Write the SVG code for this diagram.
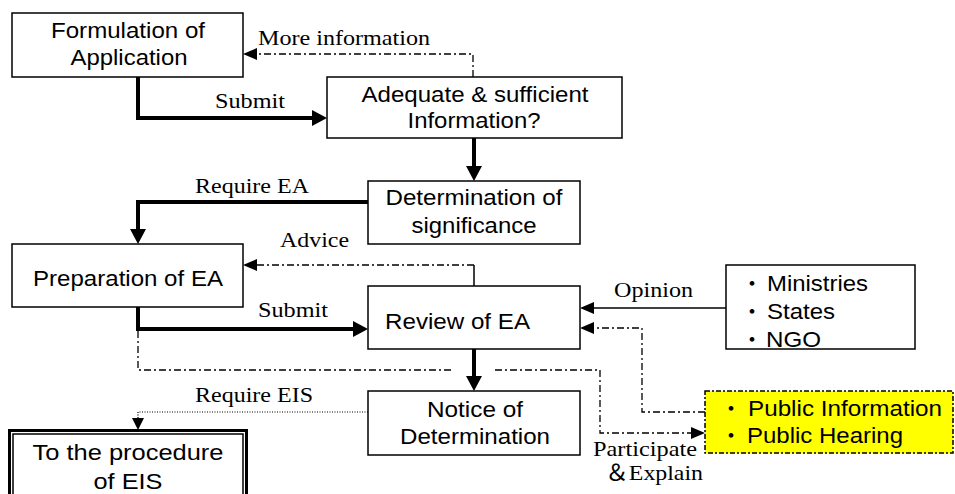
<svg xmlns="http://www.w3.org/2000/svg" width="955" height="494" viewBox="0 0 955 494">
<style>
.box{fill:#fff;stroke:#000;stroke-width:1.5}
.bt{font-family:"Liberation Sans",Arial,"Noto Sans CJK JP",sans-serif;font-size:22px;fill:#000}
.lb{font-family:"Liberation Serif","Times New Roman","Noto Sans CJK JP",serif;font-size:22px;fill:#000}
.thick{fill:none;stroke:#000;stroke-width:4;stroke-linejoin:miter}
.thin{fill:none;stroke:#000;stroke-width:1.5}
.dd{fill:none;stroke:#000;stroke-width:1.3;stroke-dasharray:7 3 2 3}
.dot{fill:none;stroke:#000;stroke-width:1.2;stroke-dasharray:1 1.5}
.mid{text-anchor:middle}
</style>
<defs>
<marker id="ah-thick" markerUnits="userSpaceOnUse" markerWidth="16" markerHeight="16" viewBox="0 0 16 16" refX="8" refY="8" orient="auto"><path d="M0,0 L15,8 L0,16 z" fill="#000"/></marker>
<marker id="ah-thin" markerUnits="userSpaceOnUse" markerWidth="14" markerHeight="12" viewBox="0 0 14 12" refX="12" refY="6" orient="auto"><path d="M0,0 L14,6 L0,12 z" fill="#000"/></marker>
<marker id="ah-small" markerUnits="userSpaceOnUse" markerWidth="12" markerHeight="12" viewBox="0 0 12 12" refX="10" refY="6" orient="auto"><path d="M0,0 L12,6 L0,12 z" fill="#000"/></marker>
</defs>

<g id="connectors">
<path class="thick" d="M138,77 V118 H320" marker-end="url(#ah-thick)"/>
<path class="thick" d="M474,138 V174" marker-end="url(#ah-thick)"/>
<path class="thick" d="M368,202 H138 V237" marker-end="url(#ah-thick)"/>
<path class="thick" d="M138,307 V329 H361" marker-end="url(#ah-thick)"/>
<path class="thick" d="M474,349 V384" marker-end="url(#ah-thick)"/>
<path class="thin" d="M726,308 H582" marker-end="url(#ah-thin)"/>
<path class="dd" d="M473,77 V54 H245" marker-end="url(#ah-thin)"/>
<path class="thin" d="M474,286 V265"/>
<path class="dd" d="M474,265 H245" marker-end="url(#ah-thin)"/>
<path class="dd" d="M705,412 H642 V328 H582" marker-end="url(#ah-thin)"/>
<path class="dd" d="M138,331 V370 H453"/>
<path class="dd" d="M495,370 H600 V433 H703" marker-end="url(#ah-thin)"/>
<path class="dot" d="M368,412 H138 V428" marker-end="url(#ah-small)"/>
<text class="lb" x="258" y="45" textLength="172" lengthAdjust="spacingAndGlyphs">More information</text>
<text class="lb" x="215" y="108" textLength="70" lengthAdjust="spacingAndGlyphs">Submit</text>
<text class="lb" x="195" y="193" textLength="114" lengthAdjust="spacingAndGlyphs">Require EA</text>
<text class="lb" x="280" y="247" textLength="69" lengthAdjust="spacingAndGlyphs">Advice</text>
<text class="lb" x="258" y="317" textLength="70" lengthAdjust="spacingAndGlyphs">Submit</text>
<text class="lb" x="614" y="297" textLength="79" lengthAdjust="spacingAndGlyphs">Opinion</text>
<text class="lb" x="195" y="402" textLength="118" lengthAdjust="spacingAndGlyphs">Require EIS</text>
<text class="lb" x="593" y="456" textLength="104" lengthAdjust="spacingAndGlyphs">Participate</text>
<text class="lb" x="605" y="480" textLength="98" lengthAdjust="spacingAndGlyphs">＆Explain</text>
</g>

<g id="formulation">
<rect class="box" x="12" y="13" width="231" height="64"/>
<text class="bt mid" x="128" y="38" textLength="154" lengthAdjust="spacingAndGlyphs">Formulation of</text>
<text class="bt mid" x="129" y="65" textLength="117" lengthAdjust="spacingAndGlyphs">Application</text>
</g>

<g id="adequate">
<rect class="box" x="327" y="77" width="295" height="61"/>
<text class="bt mid" x="475" y="102" textLength="227" lengthAdjust="spacingAndGlyphs">Adequate &amp; sufficient</text>
<text class="bt mid" x="474" y="128" textLength="133" lengthAdjust="spacingAndGlyphs">Information?</text>
</g>

<g id="determination">
<rect class="box" x="368" y="181" width="212" height="63"/>
<text class="bt mid" x="474" y="205" textLength="177" lengthAdjust="spacingAndGlyphs">Determination of</text>
<text class="bt mid" x="474" y="233" textLength="125" lengthAdjust="spacingAndGlyphs">significance</text>
</g>

<g id="preparation">
<rect class="box" x="12" y="244" width="231" height="63"/>
<text class="bt mid" x="128" y="286" textLength="190" lengthAdjust="spacingAndGlyphs">Preparation of EA</text>
</g>

<g id="review">
<rect class="box" x="368" y="286" width="212" height="63"/>
<text class="bt" x="385" y="329" textLength="145" lengthAdjust="spacingAndGlyphs">Review of EA</text>
</g>

<g id="stakeholders">
<rect class="box" x="726" y="265" width="189" height="84"/>
<text class="bt"><tspan x="752" y="291" class="mid">・</tspan><tspan x="767" y="291" textLength="101" lengthAdjust="spacingAndGlyphs">Ministries</tspan></text>
<text class="bt"><tspan x="752" y="319" class="mid">・</tspan><tspan x="767" y="319" textLength="68" lengthAdjust="spacingAndGlyphs">States</tspan></text>
<text class="bt"><tspan x="752" y="347" class="mid">・</tspan><tspan x="766" y="347" textLength="55" lengthAdjust="spacingAndGlyphs">NGO</tspan></text>
</g>

<g id="public">
<rect x="705" y="391" width="248" height="62" fill="#ffff00" stroke="#000" stroke-width="1.5" stroke-dasharray="5 2 2 2"/>
<text class="bt"><tspan x="731" y="416" class="mid">・</tspan><tspan x="748" y="416" textLength="194" lengthAdjust="spacingAndGlyphs">Public Information</tspan></text>
<text class="bt"><tspan x="731" y="443" class="mid">・</tspan><tspan x="747" y="443" textLength="156" lengthAdjust="spacingAndGlyphs">Public Hearing</tspan></text>
</g>

<g id="notice">
<rect class="box" x="368" y="391" width="212" height="64"/>
<text class="bt mid" x="475" y="417" textLength="96" lengthAdjust="spacingAndGlyphs">Notice of</text>
<text class="bt mid" x="475" y="444" textLength="150" lengthAdjust="spacingAndGlyphs">Determination</text>
</g>

<g id="eis">
<rect x="9.5" y="430.5" width="237" height="90" fill="#fff" stroke="#000" stroke-width="3"/>
<rect x="13" y="434" width="230" height="90" fill="none" stroke="#000" stroke-width="1.5"/>
<text class="bt mid" x="128" y="460" textLength="191" lengthAdjust="spacingAndGlyphs">To the procedure</text>
<text class="bt mid" x="128" y="489" textLength="69" lengthAdjust="spacingAndGlyphs">of EIS</text>
</g>
</svg>
